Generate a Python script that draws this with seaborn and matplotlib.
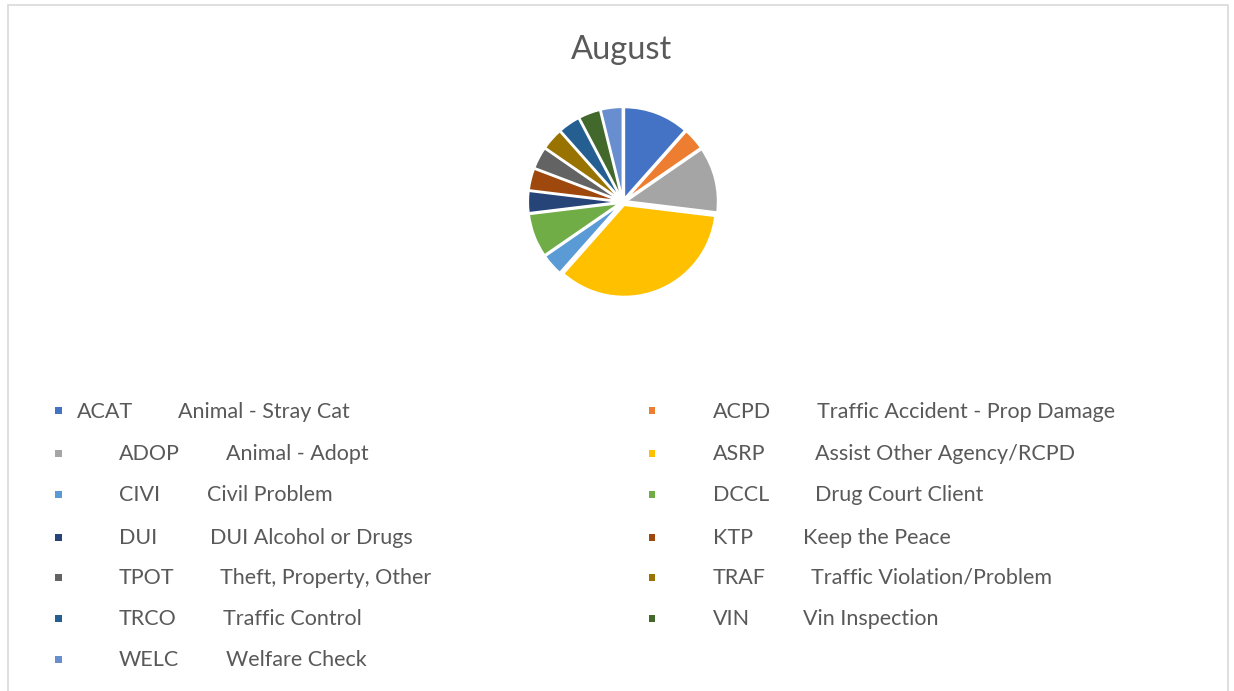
import matplotlib
matplotlib.use("Agg")
import matplotlib.pyplot as plt
from matplotlib.patches import Rectangle
import seaborn as sns

codes = ["ACAT", "ACPD", "ADOP", "ASRP", "CIVI", "DCCL", "DUI", "KTP",
         "TPOT", "TRAF", "TRCO", "VIN", "WELC"]
descriptions = ["Animal - Stray Cat", "Traffic Accident - Prop Damage", "Animal - Adopt",
                "Assist Other Agency/RCPD", "Civil Problem", "Drug Court Client",
                "DUI Alcohol or Drugs", "Keep the Peace", "Theft, Property, Other",
                "Traffic Violation/Problem", "Traffic Control", "Vin Inspection",
                "Welfare Check"]
counts = [3, 1, 3, 9, 1, 2, 1, 1, 1, 1, 1, 1, 1]
title = "August"

sns.set_theme(style="white")
plt.rcParams['font.family'] = ['Lato', 'DejaVu Sans']

palette = sns.color_palette(["#4472C4", "#ED7D31", "#A5A5A5", "#FFC000", "#5B9BD5",
                             "#70AD47", "#264478", "#9E480E", "#636363", "#997300",
                             "#255E91", "#43682B", "#698ED0"])

W, H = 1234, 691
fig = plt.figure(figsize=(W / 100, H / 100), dpi=100)
fig.patch.set_facecolor("white")

# chart border
fig.patches.append(Rectangle((8 / W, -0.01), (1228 - 8) / W, 1 - 5 / H + 0.01,
                             transform=fig.transFigure, fill=False,
                             edgecolor="#D9D9D9", linewidth=1.2))

fig.text(622 / W, 1 - 50 / H, title, ha="center", va="center",
         fontsize=23.5, color="#595959")

cx, cy, half = 623, 202, 100
ax = fig.add_axes([(cx - half) / W, 1 - (cy + half) / H, 2 * half / W, 2 * half / H])
ax.pie(counts, colors=palette, startangle=90, counterclock=False,
       explode=[0.035] * len(counts),
       wedgeprops=dict(edgecolor="white", linewidth=1.5))
ax.set_xlim(-1.09, 1.09)
ax.set_ylim(-1.09, 1.09)
ax.set_aspect("equal")
ax.axis("off")

# legend (manual to match the reference layout)
rows_y = [412, 454, 495, 538, 578, 619, 660]
left_code_x = [77, 119, 119, 119, 119, 119, 119]
left_desc_x = [178, 226, 207, 210, 220, 223, 226]
right_desc_x = [817, 815, 815, 803, 811, 803]
txt = dict(fontsize=15.5, color="#595959", va="center", ha="left")
for i, (code, desc) in enumerate(zip(codes, descriptions)):
    r, c = divmod(i, 2)
    y = rows_y[r]
    if c == 0:
        mx, codex, descx = 58, left_code_x[r], left_desc_x[r]
    else:
        mx, codex, descx = 652, 713, right_desc_x[r]
    fig.patches.append(Rectangle(((mx - 3.5) / W, 1 - (y - 1 + 3.5) / H), 7 / W, 7 / H,
                                 transform=fig.transFigure, facecolor=palette[i],
                                 edgecolor="none"))
    fig.text(codex / W, 1 - y / H, code, **txt)
    fig.text(descx / W, 1 - y / H, desc, **txt)

fig.savefig("out.png", dpi=100, facecolor="white")
